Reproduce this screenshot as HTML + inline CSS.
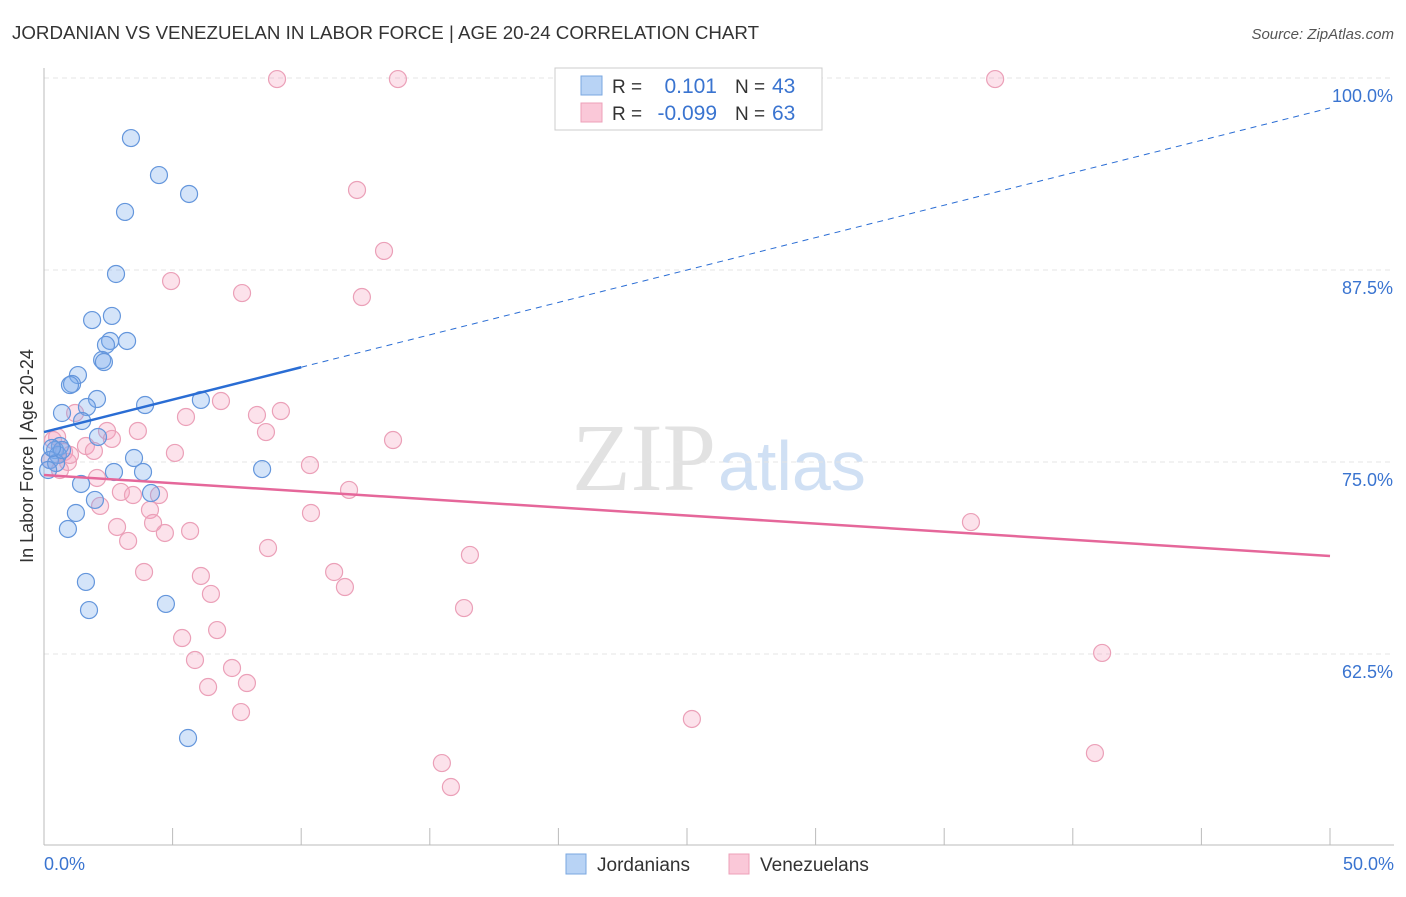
<!DOCTYPE html>
<html><head><meta charset="utf-8"><style>
body{margin:0;background:#fff;font-family:"Liberation Sans",sans-serif}
</style></head><body>
<svg id="chart" width="1406" height="892" xmlns="http://www.w3.org/2000/svg" font-family="Liberation Sans, sans-serif">
<text x="12" y="39" font-size="18" fill="#333" textLength="747" lengthAdjust="spacingAndGlyphs">JORDANIAN VS VENEZUELAN IN LABOR FORCE | AGE 20-24 CORRELATION CHART</text>
<text x="1394" y="39" font-size="15" fill="#555" font-style="italic" text-anchor="end">Source: ZipAtlas.com</text>
<text x="716" y="490" font-size="96" fill="#e2e2e2" font-family="Liberation Serif, serif" text-anchor="end">ZIP</text>
<text x="718" y="490" font-size="70" fill="#d0e0f4">atlas</text>
<text x="33" y="456" font-size="18" fill="#333" transform="rotate(-90 33 456)" text-anchor="middle">In Labor Force | Age 20-24</text>
<g id="grid"></g><g id="pts"></g><g id="trends"></g>
<g>
<rect x="555" y="68" width="267" height="62" fill="#fff" stroke="#ccc"/>
<rect x="581" y="76" width="21" height="19" fill="#b8d3f5" stroke="#7aa7e0"/>
<rect x="581" y="103" width="21" height="19" fill="#fac8d8" stroke="#eda0b9"/>
<text font-size="19" fill="#333"><tspan x="612" y="93">R =</tspan><tspan x="612" y="120">R =</tspan><tspan x="735" y="93">N =</tspan><tspan x="735" y="120">N =</tspan></text>
<text font-size="21" fill="#3a74d0"><tspan x="717" y="93" text-anchor="end">0.101</tspan><tspan x="717" y="120" text-anchor="end">-0.099</tspan><tspan x="772" y="93">43</tspan><tspan x="772" y="120">63</tspan></text>
</g>
<g>
<rect x="566" y="854" width="20" height="20" fill="#b8d3f5" stroke="#7aa7e0"/>
<text x="597" y="871" font-size="19" fill="#333">Jordanians</text>
<rect x="729" y="854" width="20" height="20" fill="#fac8d8" stroke="#eda0b9"/>
<text x="760" y="871" font-size="19" fill="#333">Venezuelans</text>
</g>
</svg>
<script>
const jorX=[3.38,4.47,5.64,3.15,2.80,2.64,1.87,2.57,3.23,2.41,2.26,2.33,1.32,1.09,1.01,2.06,1.67,3.93,6.10,0.70,1.48,2.10,0.62,0.43,0.54,0.23,0.47,0.70,3.50,2.72,3.85,8.48,1.44,4.16,1.98,1.24,0.93,1.63,1.75,4.74,5.60,0.16,0.31];
const jorY=[96.09,93.68,92.45,91.28,87.24,84.51,84.24,82.88,82.88,82.62,81.64,81.51,80.66,80.08,80.01,79.10,78.58,78.71,79.04,78.19,77.67,76.63,76.04,75.78,75.46,75.13,74.93,75.78,75.26,74.35,74.35,74.54,73.57,72.98,72.53,71.68,70.64,67.19,65.36,65.76,57.03,74.48,75.91];
const venX=[9.06,13.76,36.98,12.17,13.22,4.94,7.70,12.36,6.88,9.21,8.28,5.52,1.21,0.51,2.45,3.65,8.63,13.57,2.64,1.63,1.94,0.78,5.09,10.34,0.93,2.06,2.99,3.46,4.47,11.86,2.18,4.12,10.38,2.84,4.24,5.68,4.70,3.27,8.71,16.56,36.04,3.89,11.28,6.10,11.70,6.49,16.33,6.73,5.37,5.87,7.31,7.89,6.38,7.66,25.19,41.14,40.86,15.47,15.82,0.35,0.62,0.23,1.01];
const venY=[99.93,99.93,99.93,92.71,88.74,86.78,86.00,85.74,78.97,78.32,78.06,77.93,78.19,76.63,77.02,77.02,76.95,76.43,76.50,76.04,75.72,75.65,75.59,74.80,75.0,73.96,73.05,72.85,72.85,73.18,72.14,71.88,71.68,70.77,71.03,70.51,70.38,69.86,69.40,68.95,71.09,67.84,67.84,67.58,66.86,66.41,65.49,64.06,63.54,62.11,61.59,60.61,60.35,58.72,58.27,62.57,56.05,55.40,53.84,76.43,74.48,75.13,75.46];
const jorTrend=[76.95,98.05];
const venTrend=[74.15,68.88];
const yTicks=[100,87.5,75,62.5];
const yTickLabels=["100.0%","87.5%","75.0%","62.5%"];
const xTicks=[0,5,10,15,20,25,30,35,40,45,50];
const xTickLabels=["0.0%","50.0%"];
const NS="http://www.w3.org/2000/svg";
const sx=v=>44+v*25.72;
const sy=v=>78+(100-v)*15.36;
function mk(tag,attrs,parent){const e=document.createElementNS(NS,tag);for(const k in attrs)e.setAttribute(k,attrs[k]);parent.appendChild(e);return e;}
const grid=document.getElementById('grid');
yTicks.forEach((t,i)=>{
  const l=mk('line',{x1:44,x2:1394,y1:sy(t),y2:sy(t),stroke:'#e4e4e4','stroke-dasharray':'5,4'},grid);
  
  
  const tx=mk('text',{x:1393,y:sy(t)+24,'font-size':18,fill:'#3a74d0','text-anchor':'end'},grid);
  tx.textContent=yTickLabels[i];
  
  
});
const ax=mk('line',{x1:44,x2:44,y1:68,y2:845,stroke:'#bbb'},grid);


const bx=mk('line',{x1:44,x2:1394,y1:845,y2:845,stroke:'#bbb'},grid);


xTicks.forEach(t=>{
  const l=mk('line',{x1:sx(t),x2:sx(t),y1:828,y2:845,stroke:'#bbb'},grid);
  
  
});
const xl0=mk('text',{x:44,y:870,'font-size':18,fill:'#3a74d0'},grid);xl0.textContent=xTickLabels[0];


const xl1=mk('text',{x:1394,y:870,'font-size':18,fill:'#3a74d0','text-anchor':'end'},grid);xl1.textContent=xTickLabels[1];


const pts=document.getElementById('pts');
venX.forEach((x,i)=>{
  const c=mk('circle',{cx:sx(x),cy:sy(venY[i]),r:8.5,fill:'rgba(245,160,190,0.3)',stroke:'#eba0b8','stroke-width':1.2},pts);
  
  
});
jorX.forEach((x,i)=>{
  const c=mk('circle',{cx:sx(x),cy:sy(jorY[i]),r:8.5,fill:'rgba(120,170,235,0.32)',stroke:'#6496dc','stroke-width':1.2},pts);
  
  
});
const tr=document.getElementById('trends');
const jy=x=>jorTrend[0]+(jorTrend[1]-jorTrend[0])*x/50;
const t1=mk('line',{x1:sx(0),y1:sy(jy(0)),x2:sx(10),y2:sy(jy(10)),stroke:'#2a6dd4','stroke-width':2.5},tr);


const t2=mk('line',{x1:sx(10),y1:sy(jy(10)),x2:sx(50),y2:sy(jy(50)),stroke:'#2a6dd4','stroke-width':1,'stroke-dasharray':'6,5'},tr);


const t3=mk('line',{x1:sx(0),y1:sy(venTrend[0]),x2:sx(50),y2:sy(venTrend[1]),stroke:'#e5679a','stroke-width':2.5},tr);


</script>
</body></html>
